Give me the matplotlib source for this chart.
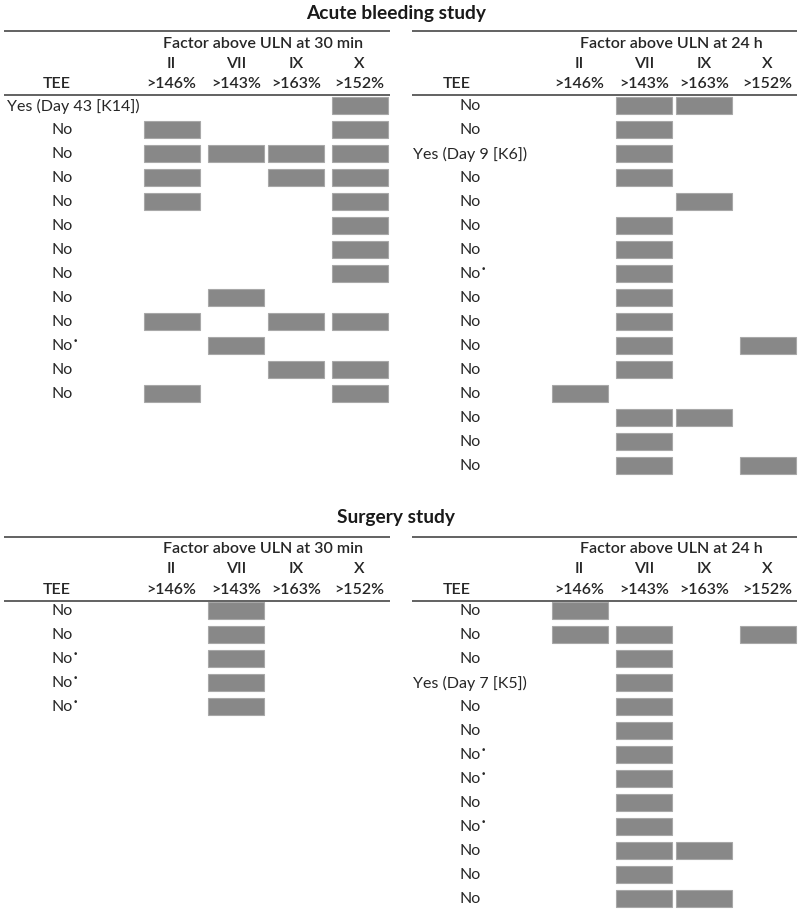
import matplotlib
matplotlib.use("Agg")
import matplotlib.pyplot as plt

plt.rcParams['font.family'] = ['Lato', 'DejaVu Sans']

# ---------------- data ----------------
factors = ["II", "VII", "IX", "X"]
thresholds = [">146%", ">143%", ">163%", ">152%"]

study_titles = ["Acute bleeding study", "Surgery study"]
time_labels = ["Factor above ULN at 30 min", "Factor above ULN at 24 h"]

# Acute bleeding study, 30 min (flags in order II, VII, IX, X)
acute_30_tee = ["Yes (Day 43 [K14])", "No", "No", "No", "No", "No", "No",
                "No", "No", "No", "No*", "No", "No"]
acute_30_flags = [[0, 0, 0, 1], [1, 0, 0, 1], [1, 1, 1, 1], [1, 0, 1, 1],
                  [1, 0, 0, 1], [0, 0, 0, 1], [0, 0, 0, 1], [0, 0, 0, 1],
                  [0, 1, 0, 0], [1, 0, 1, 1], [0, 1, 0, 0], [0, 0, 1, 1],
                  [1, 0, 0, 1]]

# Acute bleeding study, 24 h
acute_24_tee = ["No", "No", "Yes (Day 9 [K6])", "No", "No", "No", "No",
                "No*", "No", "No", "No", "No", "No", "No", "No", "No"]
acute_24_flags = [[0, 1, 1, 0], [0, 1, 0, 0], [0, 1, 0, 0], [0, 1, 0, 0],
                  [0, 0, 1, 0], [0, 1, 0, 0], [0, 1, 0, 0], [0, 1, 0, 0],
                  [0, 1, 0, 0], [0, 1, 0, 0], [0, 1, 0, 1], [0, 1, 0, 0],
                  [1, 0, 0, 0], [0, 1, 1, 0], [0, 1, 0, 0], [0, 1, 0, 1]]

# Surgery study, 30 min
surgery_30_tee = ["No", "No", "No*", "No*", "No*"]
surgery_30_flags = [[0, 1, 0, 0], [0, 1, 0, 0], [0, 1, 0, 0], [0, 1, 0, 0],
                    [0, 1, 0, 0]]

# Surgery study, 24 h
surgery_24_tee = ["No", "No", "No", "Yes (Day 7 [K5])", "No", "No", "No*",
                  "No*", "No", "No*", "No", "No", "No"]
surgery_24_flags = [[1, 0, 0, 0], [1, 1, 0, 1], [0, 1, 0, 0], [0, 1, 0, 0],
                    [0, 1, 0, 0], [0, 1, 0, 0], [0, 1, 0, 0], [0, 1, 0, 0],
                    [0, 1, 0, 0], [0, 1, 0, 0], [0, 1, 1, 0], [0, 1, 0, 0],
                    [0, 1, 1, 0]]

# ---------------- layout / style ----------------
W, H = 800, 912
fig = plt.figure(figsize=(W / 100, H / 100), dpi=100)
ax = fig.add_axes([0, 0, 1, 1])
ax.set_xlim(0, W)
ax.set_ylim(H, 0)
ax.axis('off')

TXT = '#262626'
LINE = '#555555'
BAR_FACE = '#888888'
BAR_EDGE = '#a8a8a8'
FS = 11.5
ROW = 24.0
BAR_W = 56
BAR_H = 17

col_centers_left = [171.5, 236, 296, 359.5]
panel_dx = [0, 408]
line_x = [(4, 390), (412, 797)]
tee_header_x = [57, 457]
tee_label_x = [62, 470]
factor_hdr_x = [263, 671]

blocks = [
    (13, 32, [(acute_30_tee, acute_30_flags), (acute_24_tee, acute_24_flags)]),
    (518, 537.5, [(surgery_30_tee, surgery_30_flags), (surgery_24_tee, surgery_24_flags)]),
]

fig.canvas.draw()
renderer = fig.canvas.get_renderer()


def tee_text(x, y, label):
    star = label.endswith("*")
    s = label[:-1] if star else label
    t = ax.text(x, y, s, ha='center', va='center', fontsize=FS, color=TXT)
    bb = t.get_window_extent(renderer=renderer)
    if bb.x0 < 7:
        t.set_ha('left')
        t.set_x(7)
        bb = t.get_window_extent(renderer=renderer)
    if star:
        ax.text(bb.x1 + 0.5, y - 4.5, "\u2022", ha='left', va='center',
                fontsize=6.5, color=TXT, fontfamily='DejaVu Sans')
    return t


for bi, (title_y, top, panels) in enumerate(blocks):
    ax.text(396, title_y, study_titles[bi], ha='center', va='center',
            fontsize=13.8, fontweight='bold', color='#1a1a1a')
    for pi, (tees, flags) in enumerate(panels):
        dx = panel_dx[pi]
        x0, x1 = line_x[pi]
        ax.plot([x0, x1], [top, top], color=LINE, lw=1.3, solid_capstyle='butt')
        ax.plot([x0, x1], [top + 64, top + 64], color=LINE, lw=1.3,
                solid_capstyle='butt')
        ax.text(factor_hdr_x[pi], top + 12, time_labels[pi], ha='center',
                va='center', fontsize=FS, fontweight='semibold', color=TXT)
        for ci, (f, th) in enumerate(zip(factors, thresholds)):
            cx = col_centers_left[ci] + dx
            ax.text(cx, top + 31.5, f, ha='center', va='center', fontsize=FS,
                    fontweight='semibold', color=TXT)
            ax.text(cx, top + 52.5, th, ha='center', va='center', fontsize=FS,
                    fontweight='semibold', color=TXT)
        ax.text(tee_header_x[pi], top + 52.5, "TEE", ha='center', va='center',
                fontsize=FS, fontweight='semibold', color=TXT)
        for ri, (lab, fl) in enumerate(zip(tees, flags)):
            y = top + 74 + ri * ROW
            tee_text(tee_label_x[pi], y, lab)
            for ci, v in enumerate(fl):
                if v:
                    cx = col_centers_left[ci] + dx
                    ax.barh(y, BAR_W, left=cx - BAR_W / 2, height=BAR_H,
                            color=BAR_FACE, edgecolor=BAR_EDGE, linewidth=0.8)

fig.savefig("out.png", dpi=100)
